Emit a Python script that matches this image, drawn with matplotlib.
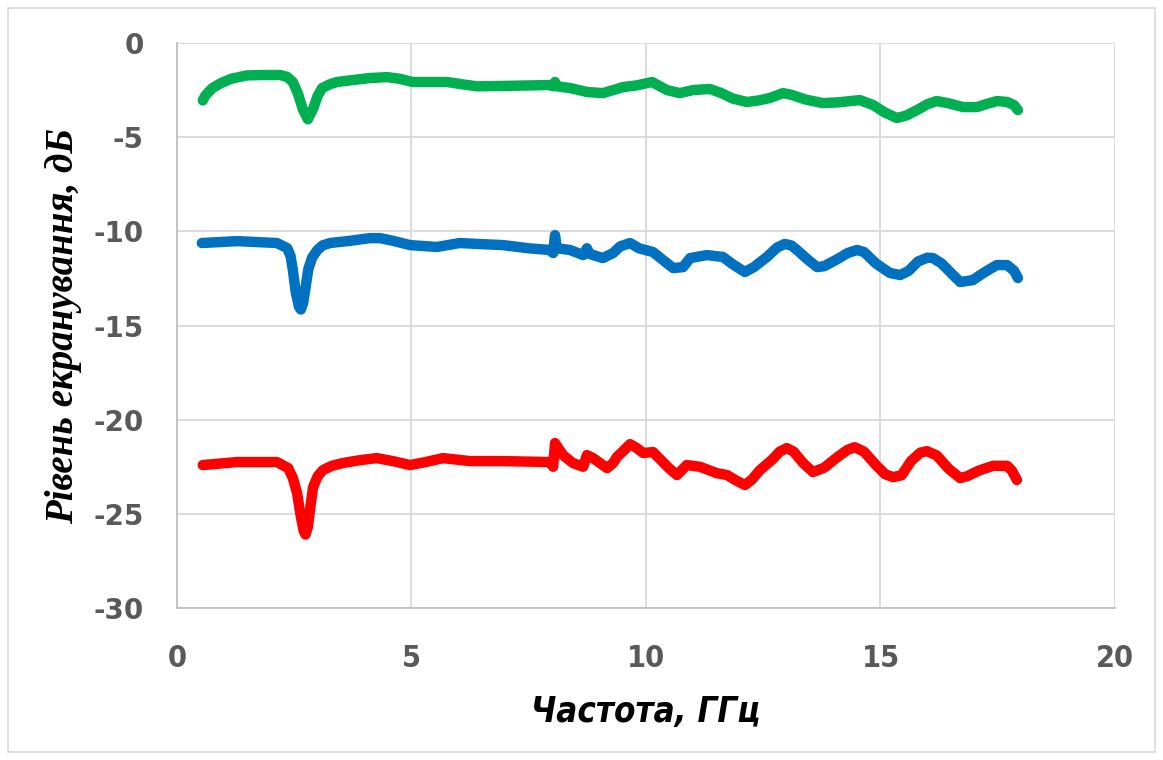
import matplotlib.pyplot as plt
from matplotlib.patches import Rectangle

plt.rcParams['axes.unicode_minus'] = False

# Частота, ГГц / рівень екранування, дБ
freq_green = [0.55, 0.6, 0.75, 0.92, 1.15, 1.49, 1.8, 2.2, 2.35, 2.47, 2.58, 2.68, 2.79,
              2.9, 3.0, 3.09, 3.25, 3.41, 3.8, 4.11, 4.48, 4.75, 5.03, 5.76, 6.1, 6.4,
              6.95, 7.95, 8.02, 8.06, 8.1, 8.38, 8.74, 9.08, 9.3, 9.51, 9.8, 10.13, 10.3,
              10.45, 10.72, 11.0, 11.36, 11.6, 11.85, 12.15, 12.4, 12.64, 12.92, 13.1,
              13.4, 13.77, 14.1, 14.56, 14.84, 15.1, 15.35, 15.55, 15.78, 16.0, 16.2,
              16.45, 16.76, 17.06, 17.25, 17.48, 17.7, 17.85, 17.93]
level_green = [-3.05, -2.8, -2.4, -2.15, -1.9, -1.72, -1.7, -1.7, -1.8, -2.07, -2.7, -3.5,
               -4.05, -3.5, -2.8, -2.4, -2.2, -2.07, -1.95, -1.86, -1.81, -1.9, -2.07,
               -2.07, -2.2, -2.3, -2.28, -2.23, -2.3, -2.07, -2.3, -2.39, -2.6, -2.66,
               -2.5, -2.34, -2.25, -2.07, -2.3, -2.5, -2.66, -2.5, -2.44, -2.65, -2.95,
               -3.13, -3.05, -2.92, -2.66, -2.75, -3.0, -3.19, -3.15, -3.03, -3.29, -3.7,
               -3.98, -3.85, -3.56, -3.25, -3.08, -3.2, -3.4, -3.4, -3.25, -3.08, -3.13,
               -3.3, -3.56]

freq_blue = [0.53, 1.28, 2.13, 2.35, 2.42, 2.47, 2.53, 2.6, 2.64, 2.69, 2.74, 2.8, 2.88,
             2.99, 3.1, 3.26, 3.7, 4.11, 4.33, 4.6, 4.97, 5.54, 6.03, 6.5, 6.95, 7.5,
             7.95, 8.02, 8.06, 8.1, 8.38, 8.66, 8.74, 8.8, 9.08, 9.3, 9.45, 9.66, 9.85,
             10.15, 10.35, 10.58, 10.79, 10.94, 11.3, 11.64, 11.85, 12.11, 12.3, 12.58,
             12.8, 12.96, 13.1, 13.22, 13.45, 13.65, 13.8, 14.1, 14.3, 14.5, 14.65, 14.9,
             15.2, 15.42, 15.6, 15.8, 16.0, 16.12, 16.3, 16.5, 16.7, 16.97, 17.2, 17.48,
             17.7, 17.85, 17.93]
level_blue = [-10.62, -10.52, -10.62, -10.89, -11.3, -12.05, -13.2, -14.0, -14.15, -13.8,
              -13.0, -12.0, -11.4, -11.0, -10.75, -10.62, -10.5, -10.36, -10.36, -10.5,
              -10.73, -10.83, -10.62, -10.68, -10.73, -10.9, -10.99, -11.15, -10.2, -10.9,
              -10.99, -11.26, -10.9, -11.2, -11.42, -11.15, -10.8, -10.62, -10.9, -11.1,
              -11.5, -11.95, -11.9, -11.42, -11.26, -11.36, -11.75, -12.16, -11.9, -11.36,
              -10.85, -10.67, -10.75, -10.99, -11.5, -11.9, -11.85, -11.45, -11.15, -10.99,
              -11.1, -11.7, -12.21, -12.32, -12.1, -11.6, -11.4, -11.42, -11.7, -12.2,
              -12.69, -12.59, -12.2, -11.79, -11.79, -12.1, -12.48]

freq_red = [0.55, 1.28, 2.13, 2.37, 2.47, 2.56, 2.63, 2.7, 2.74, 2.79, 2.84, 2.9, 3.0,
            3.11, 3.3, 3.54, 3.9, 4.26, 4.6, 4.97, 5.3, 5.67, 6.25, 6.95, 7.95, 8.02,
            8.06, 8.23, 8.44, 8.66, 8.74, 8.87, 9.17, 9.3, 9.38, 9.5, 9.66, 9.8, 9.94,
            10.15, 10.36, 10.5, 10.66, 10.87, 11.15, 11.51, 11.73, 11.9, 12.11, 12.25,
            12.43, 12.7, 12.85, 13.0, 13.15, 13.35, 13.56, 13.8, 14.1, 14.3, 14.45,
            14.65, 14.9, 15.1, 15.27, 15.45, 15.65, 15.85, 15.99, 16.2, 16.45, 16.7,
            16.85, 17.1, 17.4, 17.7, 17.8, 17.91]
level_red = [-22.41, -22.25, -22.25, -22.57, -23.1, -23.9, -25.0, -25.9, -26.1, -25.7,
             -24.7, -23.6, -23.0, -22.68, -22.45, -22.3, -22.15, -22.04, -22.2, -22.41,
             -22.25, -22.04, -22.2, -22.2, -22.25, -22.5, -21.24, -21.88, -22.3, -22.5,
             -21.88, -22.04, -22.57, -22.3, -21.98, -21.7, -21.3, -21.5, -21.77, -21.72,
             -22.25, -22.6, -22.94, -22.41, -22.5, -22.84, -22.94, -23.2, -23.47, -23.2,
             -22.68, -22.1, -21.7, -21.51, -21.7, -22.3, -22.78, -22.55, -21.95, -21.6,
             -21.46, -21.7, -22.4, -22.9, -23.05, -22.95, -22.2, -21.75, -21.67, -21.9,
             -22.6, -23.1, -23.0, -22.7, -22.45, -22.45, -22.7, -23.2]

x_ticks = [0, 5, 10, 15, 20]
y_ticks = [0, -5, -10, -15, -20, -25, -30]

fig = plt.figure(figsize=(11.63, 7.6), dpi=100)
ax = fig.add_axes([0.1522, 0.2, 0.8065, 0.7434])

for fx, lv, c in ((freq_green, level_green, '#00B050'),
                  (freq_blue, level_blue, '#0070C0'),
                  (freq_red, level_red, '#FF0000')):
    ax.plot(fx, lv, color=c, lw=7.5, solid_capstyle='round', solid_joinstyle='round')

ax.set_xlim(0, 20)
ax.set_ylim(-30, 0)
ax.set_xticks(x_ticks)
ax.set_yticks(y_ticks)
ax.grid(True, color='#D9D9D9', lw=1.3)
ax.set_axisbelow(True)
for s in ('top', 'right'):
    ax.spines[s].set_visible(False)
for s in ('left', 'bottom'):
    ax.spines[s].set_color('#BFBFBF')
    ax.spines[s].set_linewidth(1.3)

ax.tick_params(length=0)
ax.tick_params(axis='y', pad=24)
ax.tick_params(axis='x', pad=26)
for lab in ax.get_yticklabels():
    lab.set_fontfamily('DejaVu Sans')
    lab.set_fontweight('bold')
    lab.set_fontsize(20)
    lab.set_color('#595959')
for lab in ax.get_xticklabels():
    lab.set_fontfamily('DejaVu Sans')
    lab.set_fontstretch('condensed')
    lab.set_fontweight('bold')
    lab.set_fontsize(22)
    lab.set_color('#595959')

ax.set_xlabel('Частота, ГГц', family='DejaVu Sans', fontstretch='condensed',
              fontsize=25, fontweight='bold', style='italic', labelpad=16)
ax.set_ylabel('Рівень екранування, дБ', family=['Liberation Serif', 'DejaVu Serif'],
              fontsize=28, fontweight='bold', style='italic', labelpad=8)

fig.patches.append(Rectangle((0.007, 0.01), 0.986, 0.98, transform=fig.transFigure,
                             fill=False, edgecolor='#D9D9D9', lw=1.2))

fig.savefig('out.png', dpi=100)
